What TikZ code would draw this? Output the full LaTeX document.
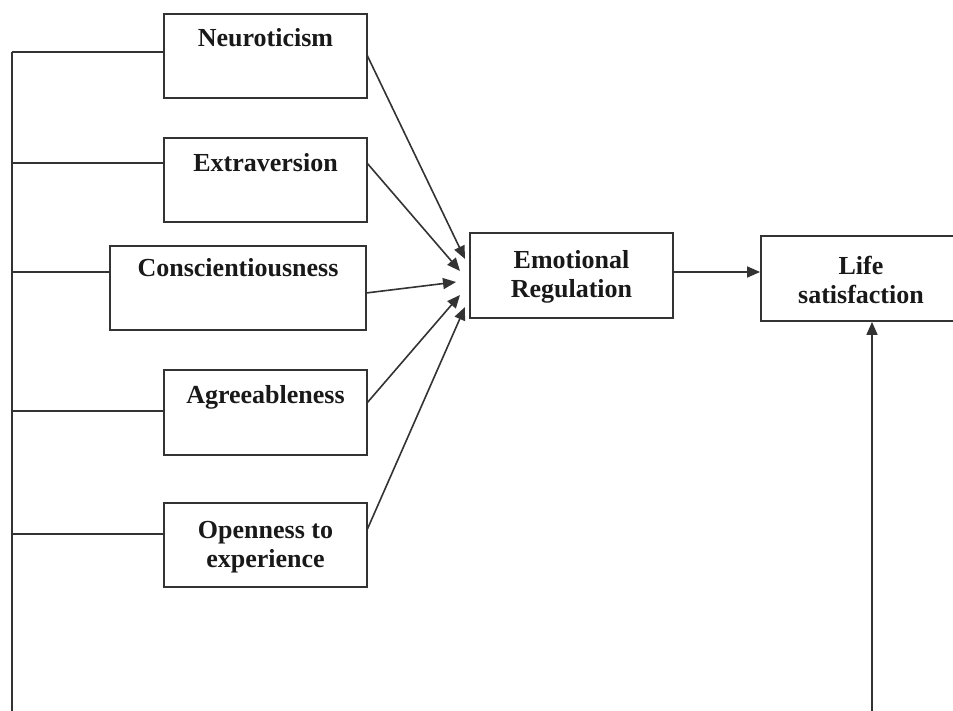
\documentclass[tikz,border=0pt]{standalone}
\usepackage{fontspec}
\setmainfont{Liberation Serif}
\usetikzlibrary{arrows.meta}
\begin{document}
\begin{tikzpicture}[x=1pt,y=-1pt,
  box/.style={draw=black!80, line width=1.8pt, rectangle, inner sep=0pt, fill=none},
  lbl/.style={font=\fontsize{26}{29}\selectfont\bfseries, text=black!90, inner sep=0pt, align=center},
  conn/.style={draw=black!80, line width=1.6pt},
  arr/.style={conn, -{Triangle[length=13pt,width=11pt]}}]
\useasboundingbox (0,0) rectangle (953,711);
\clip (0,0) rectangle (953,711);
\fill[white] (0,0) rectangle (953,711);

% predictor boxes
\node[box, minimum width=203pt, minimum height=84pt] (N) at (265.5,56) {};
\node[box, minimum width=203pt, minimum height=84pt] (E) at (265.5,180) {};
\node[box, minimum width=256pt, minimum height=84pt] (C) at (238,288) {};
\node[box, minimum width=203pt, minimum height=85pt] (A) at (265.5,412.5) {};
\node[box, minimum width=203pt, minimum height=84pt] (O) at (265.5,545) {};
% mediator and outcome
\node[box, minimum width=203pt, minimum height=85pt] (ER) at (571.5,275.5) {};
\node[box, minimum width=200pt, minimum height=85pt] (LS) at (861,278.5) {};

% labels
\node[lbl, anchor=base] (Nt) at (265.5,47) {Neuroticism};
\node[lbl, anchor=base] (Et) at (265.5,172) {Extraversion};
\node[lbl, anchor=base] (Ct) at (238,277) {Conscientiousness};
\node[lbl, anchor=base] (At) at (265.5,403) {Agreeableness};
\node[lbl] (Ot) at (265.5,547) {Openness to\\experience};
\node[lbl] (ERt) at (571.5,277) {Emotional\\Regulation};
\node[lbl] (LSt) at (861,280) {Life\\satisfaction};

% left spine
\coordinate (sN) at (12,52);
\coordinate (sE) at (12,163);
\coordinate (sC) at (12,272);
\coordinate (sA) at (12,411);
\coordinate (sO) at (12,534);
\coordinate (sB) at (12,716);
\draw[conn] (sN) -- (sB);
\draw[conn] (sN) -- (sN -| N.west);
\draw[conn] (sE) -- (sE -| E.west);
\draw[conn] (sC) -- (sC -| C.west);
\draw[conn] (sA) -- (sA -| A.west);
\draw[conn] (sO) -- (sO -| O.west);

% arrows to emotional regulation
\coordinate (oN) at (367,55);
\coordinate (oE) at (367,163);
\coordinate (oC) at (366,293);
\coordinate (oA) at (367,403);
\coordinate (oO) at (367,530);
\coordinate (tN) at (465,259);
\coordinate (tE) at (460,271);
\coordinate (tC) at (456,282);
\coordinate (tA) at (460,295);
\coordinate (tO) at (465,307);
\draw[arr] (oN) -- (tN);
\draw[arr] (oE) -- (tE);
\draw[arr] (oC) -- (tC);
\draw[arr] (oA) -- (tA);
\draw[arr] (oO) -- (tO);

% ER -> LS
\draw[arr] (ER.east |- 0,272) -- (LS.west |- 0,272);

% bottom line up to LS
\coordinate (bR) at (872,716);
\draw[arr] (bR) -- (bR |- LS.south);
\end{tikzpicture}
\end{document}
